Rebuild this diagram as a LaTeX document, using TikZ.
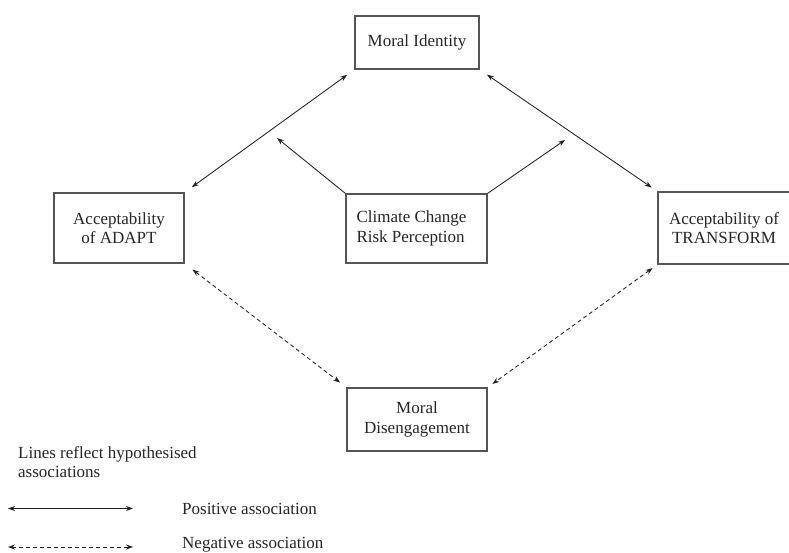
\documentclass[tikz,border=0pt]{standalone}
\usepackage{fontspec}
\setmainfont{Liberation Serif}
\usetikzlibrary{arrows.meta}
\definecolor{txt}{HTML}{262626}
\definecolor{boxc}{HTML}{555555}
\definecolor{linec}{HTML}{222222}
\begin{document}
\begin{tikzpicture}[x=1pt,y=-1pt,
  every node/.style={font=\fontsize{17}{19.5}\selectfont, text=txt},
  bx/.style={draw=boxc, line width=1.1pt, inner sep=0pt, align=center},
  tip/.style={-{Stealth[length=7pt,width=5pt]}},
  tips/.style={{Stealth[length=7pt,width=5pt]}-{Stealth[length=7pt,width=5pt]}},
  conn/.style={draw=linec, line width=0.85pt},
  neg/.style={conn, dash pattern=on 4pt off 3pt}]
\useasboundingbox (0,0) rectangle (789,553);
\fill[white] (0,0) rectangle (789,553);

\node[bx, minimum width=124pt, minimum height=53pt] (mi) at (417,42.5) {Moral Identity};
\node[bx, minimum width=141pt, minimum height=69pt, align=left] (cc) at (416.5,228.5)
  {\hspace*{-10pt}\parbox{110pt}{Climate Change\\Risk Perception}};
\node[bx, minimum width=130pt, minimum height=70pt] (ad) at (119,228) {Acceptability\\of ADAPT};
\node[bx, minimum width=132pt, minimum height=72pt] (tr) at (724,228) {Acceptability of\\TRANSFORM};
\node[bx, minimum width=140pt, minimum height=63pt] (md) at (417,419.5) {Moral\\Disengagement};

\coordinate (cl) at (277,138);
\coordinate (cr) at (565,140);

\draw[conn, tips, shorten <=9pt, shorten >=9pt] (mi.south west) -- (ad.north east);
\draw[conn, tips, shorten <=9pt, shorten >=7pt] (mi.south east) -- (tr.north west);
\draw[conn, tip] (cc.north west) -- (cl);
\draw[conn, tip] (cc.north east) -- (cr);
\draw[neg, tips, shorten <=10pt, shorten >=8pt] (ad.south east) -- (md.north west);
\draw[neg, tips, shorten <=6pt, shorten >=6pt] (tr.south west) -- (md.north east);

\node[anchor=north west, align=left, inner sep=0pt] (lg) at (18,446) {Lines reflect hypothesised\\associations};
\coordinate (p1) at (8,508.5);
\coordinate (p2) at (133,508.5);
\coordinate (n1) at (8,547);
\coordinate (n2) at (133,547);
\draw[conn, tips] (p1) -- (p2);
\draw[neg, tips] (n1) -- (n2);
\node[anchor=base west, inner sep=0pt] (pt) at (182,514) {Positive association};
\node[anchor=base west, inner sep=0pt] (nt) at (182,548.5) {Negative association};
\end{tikzpicture}
\end{document}
